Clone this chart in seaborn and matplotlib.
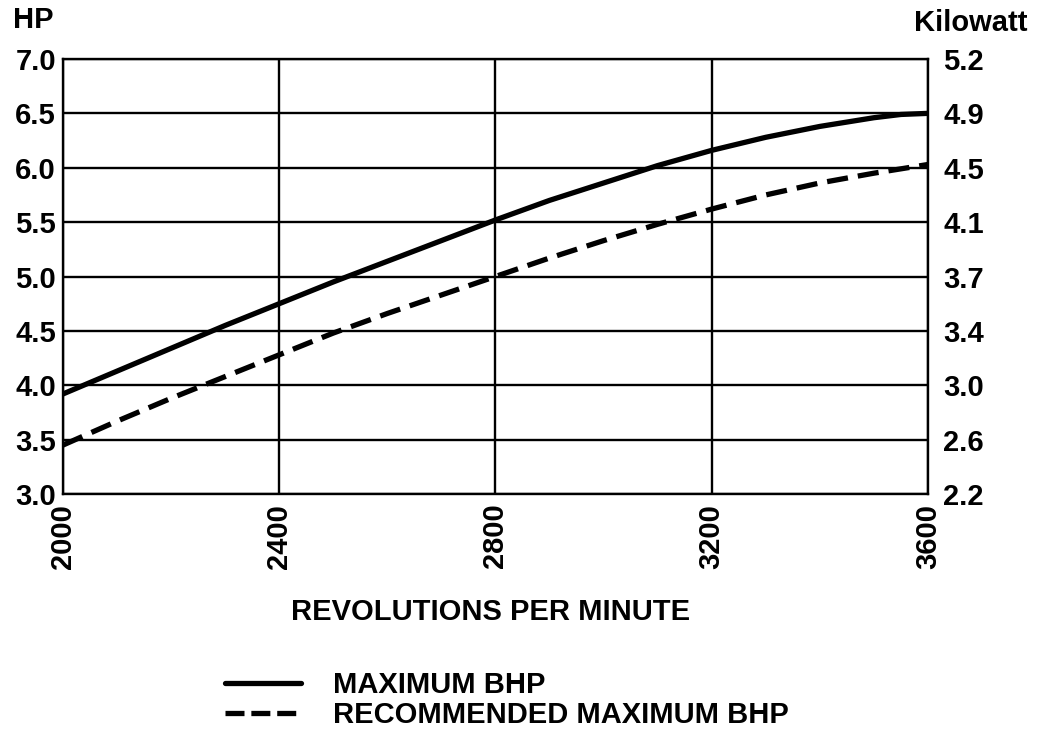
import pandas as pd
import seaborn as sns
import matplotlib.pyplot as plt

# values
rpm = [2000, 2100, 2200, 2300, 2400, 2500, 2600, 2700, 2800,
       2900, 3000, 3100, 3200, 3300, 3400, 3500, 3550, 3600]
max_bhp = [3.92, 4.13, 4.34, 4.55, 4.75, 4.95, 5.14, 5.33, 5.52,
           5.70, 5.86, 6.02, 6.16, 6.28, 6.38, 6.46, 6.49, 6.50]
rec_bhp = [3.45, 3.67, 3.88, 4.08, 4.28, 4.48, 4.66, 4.83, 5.00,
           5.17, 5.33, 5.48, 5.62, 5.75, 5.86, 5.95, 5.99, 6.03]

hp_ticks = [3.0, 3.5, 4.0, 4.5, 5.0, 5.5, 6.0, 6.5, 7.0]
kw_labels = ['2.2', '2.6', '3.0', '3.4', '3.7', '4.1', '4.5', '4.9', '5.2']
rpm_ticks = [2000, 2400, 2800, 3200, 3600]

df = pd.DataFrame({'rpm': rpm, 'MAXIMUM BHP': max_bhp, 'RECOMMENDED MAXIMUM BHP': rec_bhp})
long_df = df.melt(id_vars='rpm', var_name='curve', value_name='hp')

sns.set_style('white')
plt.rcParams['font.family'] = ['Liberation Sans', 'DejaVu Sans']
plt.rcParams['font.weight'] = 'bold'
plt.rcParams['text.color'] = 'black'
plt.rcParams['xtick.color'] = 'black'
plt.rcParams['ytick.color'] = 'black'

FS = 21
dash = (4.0, 1.9)

fig = plt.figure(figsize=(10.43, 7.31), dpi=100)
ax = fig.add_axes([0.0604, 0.3242, 0.8293, 0.5951])

sns.lineplot(data=long_df, x='rpm', y='hp', style='curve', color='black',
             linewidth=3.8, dashes={'MAXIMUM BHP': '', 'RECOMMENDED MAXIMUM BHP': dash},
             ax=ax, legend=False)

ax.set_xlim(2000, 3600)
ax.set_ylim(3.0, 7.0)
ax.set_xticks(rpm_ticks)
ax.set_yticks(hp_ticks)
ax.set_xticklabels([str(r) for r in rpm_ticks], rotation=90, fontsize=FS, fontweight='bold')
ax.set_yticklabels([f'{v:.1f}' for v in hp_ticks], fontsize=FS, fontweight='bold')
ax.tick_params(axis='y', length=0, pad=5)
ax.tick_params(axis='x', length=0, pad=7)
ax.grid(True, color='black', linewidth=1.7)
ax.set_axisbelow(True)
for s in ax.spines.values():
    s.set_color('black')
    s.set_linewidth(1.7)
ax.set_xlabel('')
ax.set_ylabel('')

ax2 = ax.twinx()
ax2.set_ylim(3.0, 7.0)
ax2.set_yticks(hp_ticks)
ax2.set_yticklabels(kw_labels, fontsize=FS, fontweight='bold')
ax2.tick_params(length=0, pad=11)
for s in ax2.spines.values():
    s.set_visible(False)

fig.text(0.0125, 0.972, 'HP', fontsize=FS, fontweight='bold', va='center', ha='left')
fig.text(0.9856, 0.968, 'Kilowatt', fontsize=FS, fontweight='bold', va='center', ha='right')
fig.text(0.47, 0.163, 'REVOLUTIONS PER MINUTE', fontsize=FS, fontweight='bold',
         va='center', ha='center')

# legend below the plot
solid = plt.Line2D([], [], color='black', linewidth=3.8)
dashed = plt.Line2D([], [], color='black', linewidth=3.8, dashes=(3.6, 1.3))
fig.legend([solid, dashed], ['MAXIMUM BHP', 'RECOMMENDED MAXIMUM BHP'],
           loc='upper left', bbox_to_anchor=(0.2157, 0.082), frameon=False,
           borderpad=0, borderaxespad=0,
           handlelength=2.6, handletextpad=1.1, labelspacing=0.08,
           prop={'size': FS, 'weight': 'bold'})

fig.savefig('out.png', dpi=100, facecolor='white')
